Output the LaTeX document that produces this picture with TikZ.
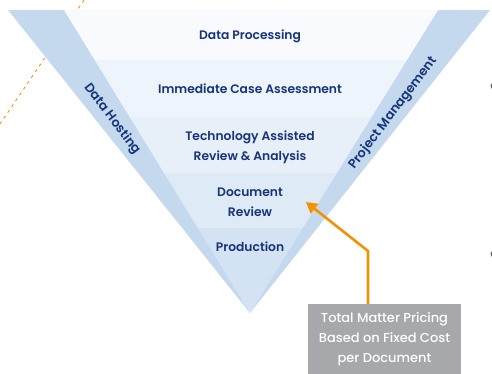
\documentclass[tikz,border=0pt]{standalone}
\usepackage{fontspec}
\usetikzlibrary{arrows.meta}
\IfFontExistsTF{Poppins SemiBold}{\setmainfont{Poppins SemiBold}}{\IfFontExistsTF{Poppins Medium}{\setmainfont{Poppins Medium}[FakeBold=0.4]}{\setmainfont{Poppins}[FakeBold=1]}}
\IfFontExistsTF{Poppins Medium}{\newfontfamily\boxfont{Poppins Medium}}{\newfontfamily\boxfont{Poppins}}
\definecolor{band}{RGB}{197,217,238}
\definecolor{rowa}{RGB}{248,250,253}
\definecolor{rowb}{RGB}{238,244,251}
\definecolor{rowc}{RGB}{231,239,249}
\definecolor{rowd}{RGB}{222,234,246}
\definecolor{rowe}{RGB}{212,227,243}
\definecolor{navy}{RGB}{22,52,122}
\definecolor{boxgrey}{RGB}{166,168,171}
\definecolor{orng}{RGB}{243,146,0}
\begin{document}
\begin{tikzpicture}[x=1pt,y=-1pt,
  rowtext/.style={text=navy,font=\fontsize{12.3}{20}\selectfont,align=center,inner sep=0pt},
  bandtext/.style={text=navy,font=\fontsize{12.8}{14}\selectfont,inner sep=0pt},
  boxtext/.style={fill=boxgrey,text=white,font=\boxfont\fontsize{13}{20}\selectfont,align=center,minimum width=153pt,minimum height=70pt,inner sep=0pt,anchor=north}]
\useasboundingbox (0,0) rectangle (492,373);
% dashed line behind
\coordinate (d1) at (84,0);
\coordinate (d2) at (0,124);
\draw[orng,line width=0.9pt,dash pattern=on 3pt off 4pt] (d1) -- (d2);
% outer triangle (bands)
\fill[band] (8,10) -- (490,10) -- (250,313) -- cycle;
% inner rows
\begin{scope}
\clip (64,10) -- (438,10) -- (250,313) -- cycle;
\fill[rowa] (0,10) rectangle (492,60);
\fill[rowb] (0,60) rectangle (492,117);
\fill[rowc] (0,117) rectangle (492,173);
\fill[rowd] (0,173) rectangle (492,228);
\fill[rowe] (0,228) rectangle (492,320);
\end{scope}
% row labels
\node[rowtext] (dp) at (250,36) {Data Processing};
\node[rowtext] (ica) at (250,89) {Immediate Case Assessment};
\node[rowtext] (tar) at (250,147) {Technology Assisted\\Review \& Analysis};
\node[rowtext] (dr) at (250,202) {Document\\Review};
\node[rowtext] (pr) at (250,247) {Production};
% band labels
\node[bandtext,rotate=-53] (dh) at (112,119) {Data Hosting};
\node[bandtext,rotate=53] (pm) at (393,113) {Project Management};
% bullets cut off
\fill[black!60] (494,86) circle (3.5);
\fill[black!60] (494,254) circle (3.5);
% box
\node[boxtext] (box) at (384.5,304) {Total Matter Pricing\\Based on Fixed Cost\\per Document};
\coordinate (bend) at (368,251);
\coordinate (tip) at (306,202);
\draw[orng,line width=2.6pt,-{Triangle[length=11pt,width=12pt]}] (box.north -| bend) -- (bend) -- (tip);
\end{tikzpicture}
\end{document}
